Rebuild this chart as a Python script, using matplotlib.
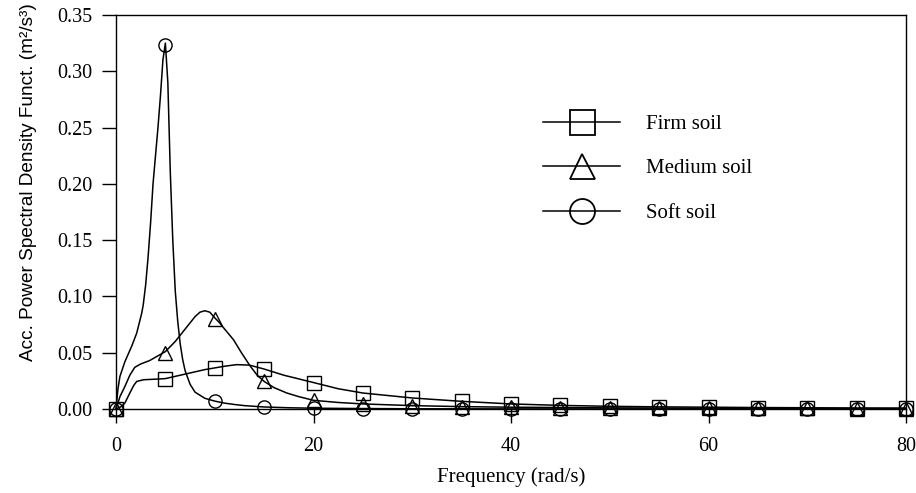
import matplotlib
matplotlib.use("Agg")
import matplotlib.pyplot as plt
from matplotlib.lines import Line2D

# Curvas densas (frecuencia en rad/s, densidad espectral en m^2/s^3)
firm_f = [0, 0.5, 0.9, 1.4, 1.8, 2.1, 2.8, 4, 5, 6, 7, 8, 9, 10, 11, 12.2, 13.5,
          15, 17, 20, 22.5, 25, 27.5, 30, 35, 40, 45, 50, 55, 60, 65, 70, 75, 80]
firm_s = [0, 0.002, 0.0053, 0.0142, 0.021, 0.0245, 0.026, 0.0265, 0.027, 0.029,
          0.031, 0.033, 0.035, 0.0365, 0.038, 0.0394, 0.039, 0.0355, 0.030, 0.0235,
          0.018, 0.0142, 0.012, 0.0098, 0.0068, 0.0045, 0.0032, 0.0024, 0.0019,
          0.0016, 0.0013, 0.0011, 0.0009, 0.0008]

medium_f = [0, 0.4, 0.9, 1.4, 1.9, 2.5, 3.4, 4.2, 5, 6, 7, 8, 8.5, 9, 9.5, 10, 10.5,
            11, 11.9, 12.7, 13.6, 14.3, 15, 16, 17.3, 18.5, 20, 22.5, 25, 30, 35,
            40, 50, 60, 70, 80]
medium_s = [0, 0.011, 0.020, 0.030, 0.037, 0.040, 0.043, 0.047, 0.051, 0.060,
            0.071, 0.082, 0.086, 0.0873, 0.086, 0.081, 0.0765, 0.071, 0.0615, 0.050,
            0.038, 0.030, 0.0245, 0.019, 0.0142, 0.011, 0.0077, 0.0058, 0.0045,
            0.003, 0.0021, 0.0016, 0.0010, 0.0007, 0.0005, 0.0004]

soft_f = [0, 0.2, 0.4, 0.9, 1.6, 2.1, 2.6, 2.75, 3.0, 3.25, 3.5, 3.75, 4.0, 4.25,
          4.5, 4.75, 5.0, 5.25, 5.5, 5.75, 6.0, 6.25, 6.5, 6.75, 7.0, 7.5, 8.0, 9.0,
          10, 11, 12, 13, 15, 17.5, 20, 25, 30, 40, 80]
soft_s = [0, 0.018, 0.029, 0.042, 0.056, 0.0675, 0.085, 0.092, 0.11, 0.135, 0.165,
          0.20, 0.225, 0.25, 0.278, 0.31, 0.325, 0.29, 0.21, 0.15, 0.105, 0.078,
          0.058, 0.044, 0.034, 0.022, 0.015, 0.0095, 0.007, 0.0052, 0.004, 0.003,
          0.0018, 0.0011, 0.0007, 0.0004, 0.0002, 0.0001, 0.0]

# Marcadores cada 5 rad/s
mk_f = [0, 5, 10, 15, 20, 25, 30, 35, 40, 45, 50, 55, 60, 65, 70, 75, 80]
firm_mk = [0, 0.027, 0.0365, 0.0355, 0.0235, 0.0142, 0.0098, 0.0068, 0.0045,
           0.0032, 0.0024, 0.0019, 0.0016, 0.0013, 0.0011, 0.0009, 0.0008]
medium_mk = [0, 0.050, 0.080, 0.0245, 0.0077, 0.0045, 0.003, 0.0021, 0.0016,
             0.0012, 0.0010, 0.0008, 0.0007, 0.0006, 0.0005, 0.0004, 0.0004]
soft_mk = [0, 0.323, 0.007, 0.0018, 0.0007, 0.0004, 0.0002, 0.0001, 0.0001,
           0, 0, 0, 0, 0, 0, 0, 0]

labels = ['Firm soil', 'Medium soil', 'Soft soil']
markers = ['s', '^', 'o']

serif = 'Liberation Serif'
sans = 'Liberation Sans'

fig = plt.figure(figsize=(9.16, 4.93), dpi=100)
ax = fig.add_axes([116/916, 1-409/493, 790/916, 394/493])

curves = [(firm_f, firm_s, firm_mk), (medium_f, medium_s, medium_mk), (soft_f, soft_s, soft_mk)]
for (f, s, mk), m in zip(curves, markers):
    ax.plot(f, s, color='black', lw=1.1, clip_on=False)
    ax.plot(mk_f, mk, ls='none', marker=m, ms=9.5, mfc='none', mec='black',
            mew=1.0, clip_on=False)

ax.set_xlim(0, 80)
ax.set_ylim(0, 0.35)
ax.set_xticks([0, 20, 40, 60, 80])
ax.set_yticks([0, 0.05, 0.10, 0.15, 0.20, 0.25, 0.30, 0.35])
ax.set_yticklabels(['%.2f' % v for v in ax.get_yticks()])
ax.tick_params(direction='out', length=10, width=1.0, labelsize=14.5)
ax.tick_params(axis='x', pad=10)
ax.tick_params(axis='y', pad=7)
for lab in ax.get_xticklabels() + ax.get_yticklabels():
    lab.set_family(serif)
for sp in ax.spines.values():
    sp.set_linewidth(1.0)

ax.set_xlabel('Frequency (rad/s)', family=serif, fontsize=15, labelpad=8)
fig.text(29/916, 1-182/493, 'Acc. Power Spectral Density Funct. (m\u00b2/s\u00b3)',
         rotation=90, ha='center', va='center', family=sans, fontsize=13.7)

handles = [Line2D([], [], color='black', lw=1.1, marker=m, ms=18, mfc='none',
                  mec='black', mew=1.3) for m in markers]
ax.legend(handles, labels, loc='upper left', bbox_to_anchor=(0.5405, 0.748),
          frameon=False, borderpad=0, borderaxespad=0, handlelength=3.7,
          handletextpad=1.25, labelspacing=1.2, prop={'family': serif, 'size': 15})

fig.savefig('out.png', dpi=100)
